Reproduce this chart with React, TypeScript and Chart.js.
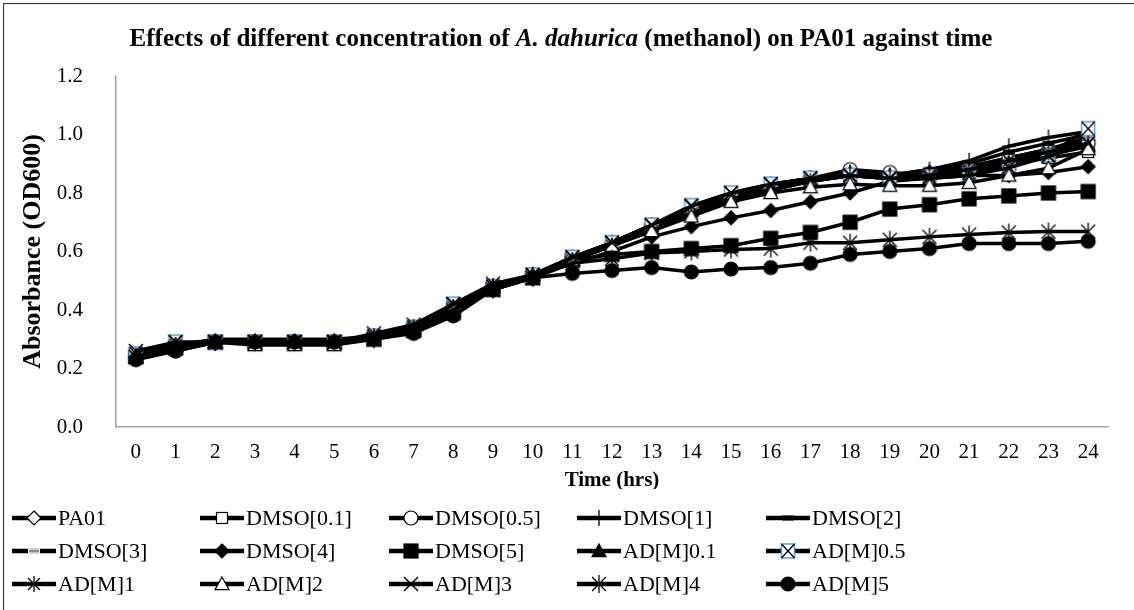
import { useEffect, useRef } from "react";
import { Chart, registerables } from "chart.js";

Chart.register(...registerables);

// ---------- data ----------
const timeLabels = ["0","1","2","3","4","5","6","7","8","9","10","11","12","13","14","15","16","17","18","19","20","21","22","23","24"];

const seriesNames = ["PA01","DMSO[0.1]","DMSO[0.5]","DMSO[1]","DMSO[2]","DMSO[3]","DMSO[4]","DMSO[5]","AD[M]0.1","AD[M]0.5","AD[M]1","AD[M]2","AD[M]3","AD[M]4","AD[M]5"];

const pa01 =     [0.24,0.27,0.29,0.29,0.29,0.29,0.31,0.34,0.41,0.48,0.52,0.57,0.62,0.68,0.74,0.78,0.82,0.84,0.86,0.86,0.87,0.89,0.92,0.95,0.98];
const dmso01 =   [0.24,0.28,0.29,0.29,0.29,0.29,0.31,0.34,0.41,0.48,0.52,0.57,0.62,0.68,0.73,0.78,0.81,0.84,0.86,0.85,0.86,0.88,0.90,0.92,0.94];
const dmso05 =   [0.24,0.26,0.29,0.29,0.29,0.29,0.31,0.34,0.41,0.48,0.52,0.58,0.63,0.69,0.74,0.79,0.82,0.85,0.88,0.87,0.86,0.88,0.91,0.94,0.97];
const dmso1 =    [0.24,0.28,0.29,0.29,0.29,0.29,0.31,0.34,0.41,0.48,0.52,0.57,0.63,0.69,0.75,0.79,0.83,0.85,0.87,0.86,0.88,0.91,0.96,0.99,1.01];
const dmso2 =    [0.24,0.28,0.30,0.30,0.30,0.30,0.31,0.34,0.41,0.48,0.52,0.57,0.62,0.68,0.74,0.78,0.82,0.85,0.86,0.86,0.88,0.90,0.94,0.97,1.00];
const dmso3 =    [0.24,0.28,0.29,0.29,0.29,0.29,0.31,0.34,0.41,0.48,0.52,0.57,0.62,0.68,0.73,0.78,0.81,0.84,0.86,0.86,0.87,0.89,0.92,0.95,0.99];
const dmso4 =    [0.24,0.27,0.29,0.29,0.29,0.29,0.30,0.33,0.40,0.47,0.51,0.56,0.60,0.65,0.685,0.715,0.74,0.77,0.80,0.84,0.85,0.86,0.86,0.87,0.89];
const dmso5 =    [0.24,0.27,0.29,0.29,0.29,0.29,0.30,0.33,0.39,0.47,0.51,0.57,0.59,0.60,0.61,0.62,0.645,0.665,0.70,0.745,0.76,0.78,0.79,0.80,0.805];
const adm01 =    [0.24,0.28,0.29,0.29,0.29,0.29,0.31,0.34,0.41,0.48,0.52,0.57,0.63,0.68,0.74,0.79,0.82,0.85,0.87,0.86,0.87,0.88,0.90,0.93,0.96];
const adm05 =    [0.25,0.29,0.29,0.29,0.29,0.29,0.31,0.34,0.42,0.48,0.52,0.58,0.63,0.69,0.757,0.80,0.83,0.85,0.86,0.85,0.855,0.87,0.89,0.93,1.02];
const adm1 =     [0.24,0.28,0.29,0.29,0.29,0.29,0.31,0.34,0.41,0.48,0.52,0.57,0.62,0.67,0.73,0.78,0.81,0.84,0.86,0.85,0.86,0.88,0.91,0.94,0.97];
const adm2 =     [0.24,0.28,0.29,0.28,0.28,0.28,0.30,0.33,0.41,0.48,0.52,0.57,0.62,0.67,0.72,0.77,0.80,0.82,0.83,0.825,0.825,0.835,0.86,0.885,0.95];
const adm3 =     [0.26,0.29,0.29,0.29,0.29,0.29,0.32,0.35,0.42,0.49,0.52,0.58,0.63,0.69,0.755,0.80,0.83,0.85,0.86,0.85,0.85,0.86,0.886,0.925,0.97];
const adm4 =     [0.24,0.27,0.29,0.29,0.29,0.29,0.30,0.33,0.40,0.47,0.51,0.56,0.575,0.595,0.60,0.607,0.61,0.63,0.63,0.64,0.65,0.658,0.665,0.668,0.668];
const adm5 =     [0.23,0.26,0.29,0.29,0.29,0.29,0.30,0.32,0.38,0.47,0.51,0.525,0.535,0.545,0.53,0.54,0.545,0.56,0.59,0.60,0.61,0.627,0.627,0.627,0.635];

const seriesValues = [pa01, dmso01, dmso05, dmso1, dmso2, dmso3, dmso4, dmso5, adm01, adm05, adm1, adm2, adm3, adm4, adm5];
const markerKinds = ["diamondOpen","squareOpen","circleOpen","plus","dashBlack","dashGray","diamondFilled","squareFilled","triangleFilled","boxX","asterisk6","triangleOpen","x","star8","circleFilled"];

const titleParts = [
  { text: "Effects of different concentration of ", italic: false },
  { text: "A. dahurica", italic: true },
  { text: " (methanol) on PA01 against time", italic: false },
];

const FONT = '"Liberation Serif", "Times New Roman", serif';

// ---------- marker drawing ----------
function drawMarker(ctx: CanvasRenderingContext2D, kind: string, cx: number, cy: number) {
  ctx.save();
  ctx.lineJoin = "miter";
  ctx.strokeStyle = "#000";
  ctx.fillStyle = "#000";
  ctx.lineWidth = 1.2;
  const line = (x1: number, y1: number, x2: number, y2: number) => {
    ctx.beginPath(); ctx.moveTo(x1, y1); ctx.lineTo(x2, y2); ctx.stroke();
  };
  switch (kind) {
    case "diamondOpen":
    case "diamondFilled": {
      const h = 7;
      ctx.beginPath();
      ctx.moveTo(cx, cy - h); ctx.lineTo(cx + h, cy); ctx.lineTo(cx, cy + h); ctx.lineTo(cx - h, cy); ctx.closePath();
      ctx.fillStyle = kind === "diamondOpen" ? "#fff" : "#000";
      ctx.fill(); ctx.stroke();
      break;
    }
    case "squareOpen":
    case "squareFilled": {
      const s = kind === "squareOpen" ? 11 : 14;
      ctx.fillStyle = kind === "squareOpen" ? "#fff" : "#000";
      ctx.fillRect(cx - s / 2, cy - s / 2, s, s);
      ctx.strokeRect(cx - s / 2, cy - s / 2, s, s);
      break;
    }
    case "circleOpen":
    case "circleFilled": {
      ctx.beginPath();
      ctx.arc(cx, cy, 7, 0, Math.PI * 2);
      ctx.fillStyle = kind === "circleOpen" ? "#fff" : "#000";
      ctx.fill(); ctx.stroke();
      break;
    }
    case "plus": {
      ctx.lineWidth = 1.3;
      line(cx - 7, cy, cx + 7, cy);
      line(cx, cy - 8, cx, cy + 8);
      break;
    }
    case "dashBlack": {
      ctx.fillStyle = "#000";
      ctx.fillRect(cx - 6, cy - 2.5, 12, 5);
      break;
    }
    case "dashGray": {
      ctx.fillStyle = "#fff";
      ctx.fillRect(cx - 6, cy - 2.5, 12, 5);
      ctx.fillStyle = "#8c8c8c";
      ctx.fillRect(cx - 5, cy - 1.5, 10, 3);
      break;
    }
    case "triangleFilled":
    case "triangleOpen": {
      const h = 7;
      ctx.beginPath();
      ctx.moveTo(cx, cy - h); ctx.lineTo(cx + h, cy + h * 0.8); ctx.lineTo(cx - h, cy + h * 0.8); ctx.closePath();
      ctx.fillStyle = kind === "triangleOpen" ? "#fff" : "#000";
      ctx.fill(); ctx.stroke();
      break;
    }
    case "boxX": {
      const w = 13, h = 14;
      ctx.fillStyle = "#fff";
      ctx.fillRect(cx - w / 2, cy - h / 2, w, h);
      ctx.strokeStyle = "#5b9bd5";
      ctx.lineWidth = 1.5;
      ctx.strokeRect(cx - w / 2, cy - h / 2, w, h);
      ctx.strokeStyle = "#000";
      ctx.lineWidth = 1.3;
      line(cx - w / 2, cy - h / 2, cx + w / 2, cy + h / 2);
      line(cx + w / 2, cy - h / 2, cx - w / 2, cy + h / 2);
      break;
    }
    case "asterisk6": {
      ctx.lineWidth = 1.3;
      line(cx - 6, cy - 6, cx + 6, cy + 6);
      line(cx + 6, cy - 6, cx - 6, cy + 6);
      line(cx, cy - 8, cx, cy + 8);
      break;
    }
    case "x": {
      ctx.lineWidth = 1.4;
      line(cx - 7, cy - 7, cx + 7, cy + 7);
      line(cx + 7, cy - 7, cx - 7, cy + 7);
      break;
    }
    case "star8": {
      ctx.lineWidth = 1.3;
      line(cx - 7, cy - 7, cx + 7, cy + 7);
      line(cx + 7, cy - 7, cx - 7, cy + 7);
      line(cx, cy - 9, cx, cy + 9);
      break;
    }
  }
  ctx.restore();
}

function makePointCanvas(kind: string): HTMLCanvasElement {
  const c = document.createElement("canvas");
  c.width = 22; c.height = 22;
  const ctx = c.getContext("2d")!;
  drawMarker(ctx, kind, 11, 11);
  return c;
}

function makeLegendCanvas(kind: string): HTMLCanvasElement {
  const c = document.createElement("canvas");
  c.width = 44; c.height = 22;
  const ctx = c.getContext("2d")!;
  ctx.strokeStyle = "#000";
  ctx.lineWidth = 4.5;
  ctx.beginPath(); ctx.moveTo(0, 11); ctx.lineTo(44, 11); ctx.stroke();
  drawMarker(ctx, kind, 22, 11);
  return c;
}

export default function App() {
  const ref = useRef<HTMLCanvasElement | null>(null);

  useEffect(() => {
    const canvas = ref.current;
    if (!canvas) return;
    Chart.defaults.font.family = FONT;
    Chart.defaults.color = "#000";

    const pointCanvases = markerKinds.map(makePointCanvas);
    const legendCanvases = markerKinds.map(makeLegendCanvas);
    const n = seriesNames.length;

    const datasets = seriesNames.map((name, i) => ({
      label: name,
      data: seriesValues[i],
      borderColor: "#000",
      backgroundColor: "#000",
      borderWidth: 3.5,
      pointStyle: pointCanvases[i],
      pointRadius: 7,
      tension: 0,
      fill: false,
      order: n - i,
    }));

    const decorPlugin = {
      id: "decor",
      afterDraw(chart: any) {
        const ctx: CanvasRenderingContext2D = chart.ctx;
        ctx.save();
        // legend background (overlaps axis title like the original)
        ctx.fillStyle = "#fff";
        ctx.fillRect(4, 489, 1130, 121);
        // outer border
        ctx.strokeStyle = "#404040";
        ctx.lineWidth = 1.2;
        ctx.strokeRect(3.5, 3.5, 1200, 800);
        // title
        const size = 25;
        const fonts = titleParts.map(p => `${p.italic ? "italic " : ""}bold ${size}px ${FONT}`);
        let total = 0;
        const widths = titleParts.map((p, i) => { ctx.font = fonts[i]; const w = ctx.measureText(p.text).width; total += w; return w; });
        let x = 561 - total / 2;
        ctx.fillStyle = "#000";
        ctx.textBaseline = "alphabetic";
        ctx.textAlign = "left";
        titleParts.forEach((p, i) => { ctx.font = fonts[i]; ctx.fillText(p.text, x, 46); x += widths[i]; });
        // legend
        const cols = [12, 200, 389, 577, 766];
        const rows = [518, 551, 584];
        ctx.font = `22px ${FONT}`;
        ctx.textBaseline = "middle";
        seriesNames.forEach((name, i) => {
          const cx = cols[i % 5];
          const cy = rows[Math.floor(i / 5)];
          ctx.drawImage(legendCanvases[i], cx, cy - 11);
          ctx.fillText(name, cx + 46, cy + 1);
        });
        ctx.restore();
      },
    };

    const chart = new Chart(canvas, {
      type: "line",
      data: { labels: timeLabels, datasets },
      options: {
        animation: false,
        responsive: false,
        devicePixelRatio: 1,
        events: [],
        layout: { padding: { left: 4, top: 76, right: 26, bottom: 113 } },
        plugins: { legend: { display: false }, title: { display: false }, tooltip: { enabled: false } },
        scales: {
          x: {
            type: "category",
            offset: true,
            grid: { display: false, drawTicks: false },
            border: { display: true, color: "#a6a6a6", width: 1.5 },
            ticks: { font: { size: 21, family: FONT }, color: "#000", padding: 13, maxRotation: 0, autoSkip: false },
            title: { display: true, text: "Time (hrs)", font: { size: 21, weight: "bold", family: FONT }, color: "#000", padding: { top: 0, bottom: 4 } },
            afterFit: (s: any) => { s.height = 70; },
          },
          y: {
            min: 0,
            max: 1.2,
            grid: { display: false, drawTicks: false },
            border: { display: true, color: "#a6a6a6", width: 1.5 },
            ticks: { stepSize: 0.2, font: { size: 21, family: FONT }, color: "#000", padding: 33, callback: (v: any) => Number(v).toFixed(1) },
            title: { display: true, text: "Absorbance (OD600)", font: { size: 26, weight: "bold", family: FONT }, color: "#000", padding: { top: 14, bottom: 0 } },
            afterFit: (s: any) => { s.width = 112; },
          },
        },
      } as any,
      plugins: [decorPlugin],
    });
    return () => chart.destroy();
  }, []);

  return (
    <div style={{ position: "fixed", left: 0, top: 0, width: 1134, height: 610, background: "#fff" }}>
      <canvas ref={ref} width={1134} height={610} style={{ width: 1134, height: 610, display: "block" }} />
    </div>
  );
}
